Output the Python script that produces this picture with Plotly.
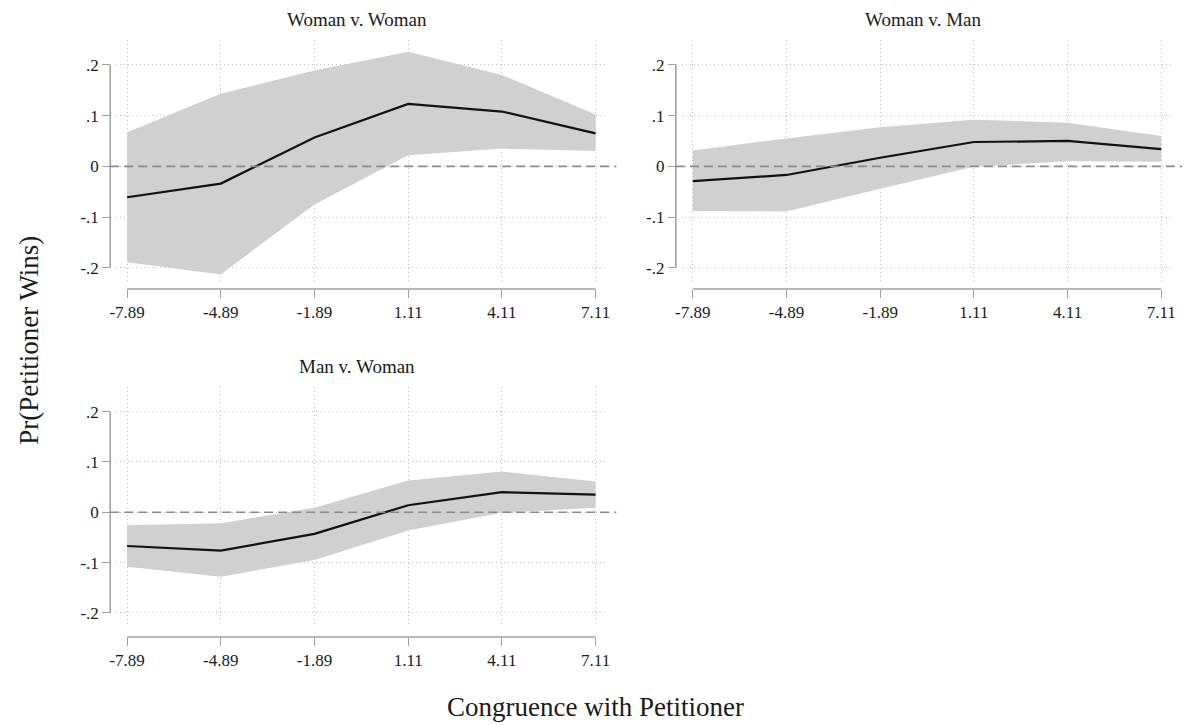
import plotly.graph_objects as go

# ---------------- data ----------------
x_vals = [-7.89, -4.89, -1.89, 1.11, 4.11, 7.11]
x_ticktext = ["-7.89", "-4.89", "-1.89", "1.11", "4.11", "7.11"]
y_tickvals = [-0.2, -0.1, 0, 0.1, 0.2]
y_ticktext = ["-.2", "-.1", "0", ".1", ".2"]

panel_titles = ["Woman v. Woman", "Woman v. Man", "Man v. Woman"]

ww_mean = [-0.061, -0.034, 0.057, 0.123, 0.108, 0.065]
ww_upper = [0.067, 0.143, 0.189, 0.226, 0.180, 0.102]
ww_lower = [-0.189, -0.213, -0.075, 0.022, 0.035, 0.030]

wm_mean = [-0.029, -0.017, 0.017, 0.048, 0.050, 0.034]
wm_upper = [0.031, 0.055, 0.077, 0.092, 0.086, 0.060]
wm_lower = [-0.088, -0.089, -0.044, -0.001, 0.010, 0.009]

mw_mean = [-0.067, -0.076, -0.043, 0.014, 0.040, 0.035]
mw_upper = [-0.026, -0.022, 0.009, 0.063, 0.081, 0.061]
mw_lower = [-0.108, -0.128, -0.095, -0.036, -0.001, 0.009]

x_title = "Congruence with Petitioner"
y_title = "Pr(Petitioner Wins)"

# ---------------- style ----------------
W, H = 1186, 725
FONT = "Liberation Serif"
FILL = "#d0d0d1"
AXIS = "#a0a0a0"
GRID = "#bdbdbd"
ZERO = "#8a8a8a"
TXT = "#1a1a1a"

def px_x(p):
    return p / W

def px_y(p):
    return 1 - p / H

# panel geometry (pixels)
panels = [
    dict(mean=ww_mean, up=ww_upper, lo=ww_lower, title=panel_titles[0],
         left=110, right=606, top=40, bottom=281, yaxis_px=104, xaxis_px=289),
    dict(mean=wm_mean, up=wm_upper, lo=wm_lower, title=panel_titles[1],
         left=680, right=1176, top=40, bottom=281, yaxis_px=674, xaxis_px=289),
    dict(mean=mw_mean, up=mw_upper, lo=mw_lower, title=panel_titles[2],
         left=110, right=606, top=387, bottom=626, yaxis_px=104, xaxis_px=637),
]

XR = [-8.24, 7.52]
YR = [-0.226, 0.249]

fig = go.Figure()
layout = dict(
    width=W, height=H,
    margin=dict(l=0, r=0, t=0, b=0),
    paper_bgcolor="white", plot_bgcolor="white",
    showlegend=False,
    font=dict(family=FONT, color=TXT),
)
shapes = []
annotations = []

for i, p in enumerate(panels):
    n = i + 1
    xa = "x" if n == 1 else f"x{n}"
    ya = "y" if n == 1 else f"y{n}"
    xkey = "xaxis" if n == 1 else f"xaxis{n}"
    ykey = "yaxis" if n == 1 else f"yaxis{n}"

    # CI band
    fig.add_trace(go.Scatter(
        x=x_vals + x_vals[::-1], y=p["up"] + p["lo"][::-1],
        fill="toself", fillcolor=FILL, line=dict(width=0),
        mode="lines", hoverinfo="skip", xaxis=xa, yaxis=ya))
    # mean line
    fig.add_trace(go.Scatter(
        x=x_vals, y=p["mean"], mode="lines",
        line=dict(color="#111111", width=2.2), xaxis=xa, yaxis=ya))

    common = dict(
        ticks="outside", ticklen=8, tickwidth=1.4, tickcolor=AXIS,
        showline=False, zeroline=False,
        showgrid=True, gridcolor=GRID, griddash="1px,3px", gridwidth=1,
        tickfont=dict(family=FONT, size=17, color=TXT),
        fixedrange=True,
    )
    layout[xkey] = dict(
        domain=[px_x(p["left"]), px_x(p["right"])],
        range=XR, anchor="free", position=px_y(p["xaxis_px"]),
        tickvals=x_vals, ticktext=x_ticktext, **common)
    layout[ykey] = dict(
        domain=[px_y(p["bottom"]), px_y(p["top"])],
        range=YR, anchor="free", position=px_x(p["yaxis_px"]),
        tickvals=y_tickvals, ticktext=y_ticktext, **common)

    # axis lines (Stata style: span only the tick range)
    shapes.append(dict(type="line", xref="paper", yref=ya,
                       x0=px_x(p["yaxis_px"]), x1=px_x(p["yaxis_px"]),
                       y0=y_tickvals[0], y1=y_tickvals[-1],
                       line=dict(color=AXIS, width=1.6), layer="above"))
    shapes.append(dict(type="line", xref=xa, yref="paper",
                       x0=x_vals[0], x1=x_vals[-1],
                       y0=px_y(p["xaxis_px"]), y1=px_y(p["xaxis_px"]),
                       line=dict(color=AXIS, width=1.6), layer="above"))
    # zero reference line
    shapes.append(dict(type="line", xref="paper", yref=ya,
                       x0=px_x(p["yaxis_px"]), x1=px_x(p["right"] + 8),
                       y0=0, y1=0,
                       line=dict(color=ZERO, width=1.6, dash="9px,5px"), layer="above"))

    # panel title
    annotations.append(dict(
        text=p["title"], xref="paper", yref="paper",
        x=px_x((p["left"] + p["right"]) / 2 - 5), y=px_y(p["top"] - 21),
        xanchor="center", yanchor="middle", showarrow=False,
        font=dict(family=FONT, size=19, color=TXT)))

annotations.append(dict(
    text=x_title, xref="paper", yref="paper",
    x=px_x(593), y=px_y(707), xanchor="center", yanchor="middle",
    showarrow=False, font=dict(family=FONT, size=27, color=TXT)))
annotations.append(dict(
    text=y_title, xref="paper", yref="paper",
    x=px_x(22), y=px_y(340), xanchor="center", yanchor="middle",
    textangle=-90, showarrow=False,
    font=dict(family=FONT, size=27, color=TXT)))

layout["shapes"] = shapes
layout["annotations"] = annotations
fig.update_layout(**layout)
fig.write_html(
    "out.html",
    config={"displayModeBar": False},
    post_script="document.body.style.margin='0';document.body.style.overflow='hidden';",
)
